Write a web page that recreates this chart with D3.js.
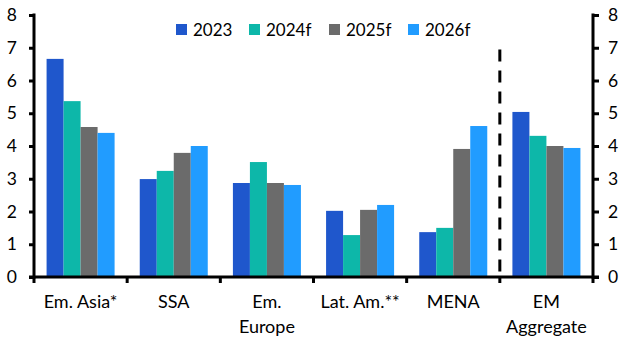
<!DOCTYPE html>
<html><head><meta charset="utf-8">
<script src="https://cdn.jsdelivr.net/npm/d3@7"></script>
<style>body{margin:0;background:#fff}svg{display:block}text{font-family:Lato,"Open Sans",sans-serif;fill:#000}</style>
</head><body><svg id="c" width="632" height="355"></svg>
<script>
const categories = ["Em. Asia*", "SSA", "Em.\nEurope", "Lat. Am.**", "MENA", "EM\nAggregate"];
const seriesNames = ["2023", "2024f", "2025f", "2026f"];
const s2023  = [6.66, 2.99, 2.87, 2.02, 1.37, 5.04];
const s2024f = [5.37, 3.24, 3.51, 1.28, 1.50, 4.31];
const s2025f = [4.58, 3.79, 2.87, 2.05, 3.91, 4.00];
const s2026f = [4.40, 4.00, 2.81, 2.20, 4.61, 3.94];
const yTicks = [0, 1, 2, 3, 4, 5, 6, 7, 8];
const colors = ["#1F57CC", "#0DB7A9", "#6B6B6B", "#219CFF"];
const series = [s2023, s2024f, s2025f, s2026f];

const svg = d3.select("#c");
const L = 34, R = 593, T = 15, B = 277;
const x0 = d3.scaleBand().domain(categories).range([L, R]).padding(0);
const gw = x0.bandwidth() * 0.73;
const x1 = d3.scaleBand().domain(seriesNames).range([0, gw]).padding(0);
const y = d3.scaleLinear().domain([0, 8]).range([B, T]);

// bars
categories.forEach((c, ci) => {
  const gx = x0(c) + (x0.bandwidth() - gw) / 2;
  svg.append("g").selectAll("rect").data(seriesNames).join("rect")
    .attr("x", s => gx + x1(s))
    .attr("width", x1.bandwidth())
    .attr("y", (s, si) => y(series[si][ci]))
    .attr("height", (s, si) => B - y(series[si][ci]))
    .attr("fill", (s, si) => colors[si]);
});

// dashed separator
const sepX = x0(categories[5]);
svg.append("line").attr("x1", sepX).attr("x2", sepX).attr("y1", y(6.95)).attr("y2", B)
  .attr("stroke", "#000").attr("stroke-width", 3).attr("stroke-dasharray", "12,9");

// left axis
const yl = svg.append("g").attr("transform", `translate(${L},0)`)
  .call(d3.axisLeft(y).tickValues(yTicks).tickSize(5).tickPadding(12).tickFormat(d3.format("d")));
// right axis
const yr = svg.append("g").attr("transform", `translate(${R},0)`)
  .call(d3.axisRight(y).tickValues(yTicks).tickSize(6).tickPadding(9).tickFormat(d3.format("d")));
[yl, yr].forEach(g => {
  g.select(".domain").remove();
  g.selectAll(".tick line").attr("stroke-width", 3);
  g.selectAll("text").attr("font-size", 17.5).style("font-family", "Lato");
});
svg.append("line").attr("x1", L).attr("x2", L).attr("y1", T - 1.5).attr("y2", B + 1.5).attr("stroke", "#000").attr("stroke-width", 3);
svg.append("line").attr("x1", R).attr("x2", R).attr("y1", T - 1.5).attr("y2", B + 1.5).attr("stroke", "#000").attr("stroke-width", 3);

// bottom axis
svg.append("line").attr("x1", L - 5).attr("x2", R + 6).attr("y1", B).attr("y2", B).attr("stroke", "#000").attr("stroke-width", 3);
const boundaries = categories.map(c => x0(c)).concat([x0(categories[5]) + x0.bandwidth()]);
svg.append("g").selectAll("line").data(boundaries).join("line")
  .attr("x1", d => d).attr("x2", d => d).attr("y1", B).attr("y2", B + 6)
  .attr("stroke", "#000").attr("stroke-width", 3);
categories.forEach(c => {
  const t = svg.append("text").attr("text-anchor", "middle").attr("font-size", 18)
    .attr("x", x0(c) + x0.bandwidth() / 2).attr("y", 308);
  c.split("\n").forEach((ln, i) => t.append("tspan").attr("x", x0(c) + x0.bandwidth() / 2).attr("y", 308 + i * 25).text(ln));
});

// legend
const legX = [176, 249, 329, 408];
seriesNames.forEach((s, i) => {
  svg.append("rect").attr("x", legX[i]).attr("y", 24).attr("width", 11).attr("height", 11).attr("fill", colors[i]);
  svg.append("text").attr("x", legX[i] + 17).attr("y", 35.5).attr("font-size", 17).text(s);
});
</script></body></html>
